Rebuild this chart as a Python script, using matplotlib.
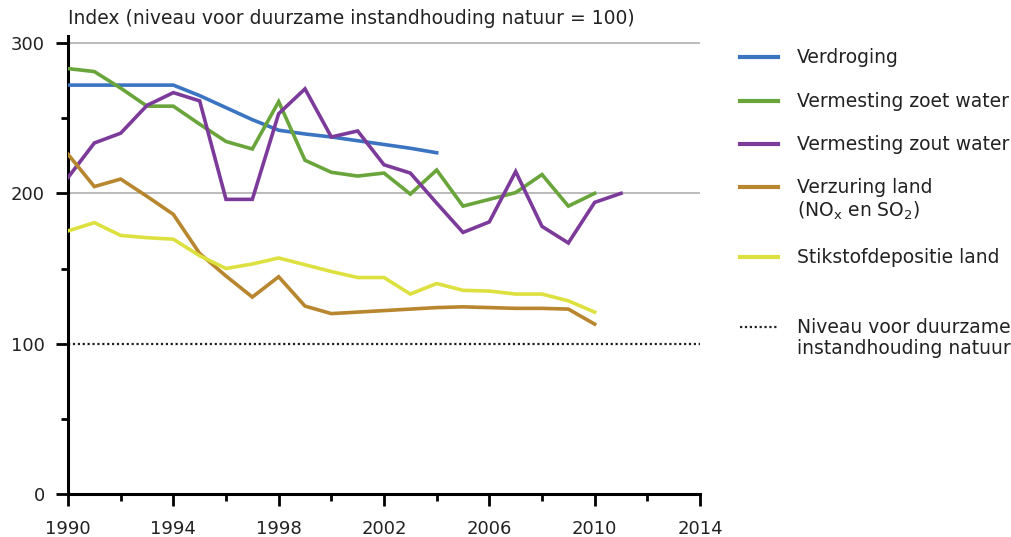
import matplotlib
matplotlib.use("Agg")
import matplotlib.pyplot as plt
from matplotlib.lines import Line2D

verdroging_years = list(range(1990, 2005))
verdroging = [272, 272, 272, 272, 272, 265, 257, 249, 242, 239.5, 237.5, 235, 232.5, 230, 227]

zoet_years = list(range(1990, 2011))
zoet = [283, 281, 270, 258, 258, 246, 234.5, 229.5, 261, 222, 214, 211.5, 213.5, 199.5,
        215.5, 191.5, 196, 200.5, 212.5, 191.5, 200]

zout_years = list(range(1990, 2012))
zout = [210.5, 233.5, 240, 258.5, 267, 261.5, 196, 196, 253, 269.5, 237.5, 241.5, 219, 213.5,
        193.5, 174, 181, 214.5, 178, 167, 194, 200]

verzuring_years = list(range(1990, 2011))
verzuring = [226, 204.5, 209.5, 198, 186, 160, 145, 131, 144.5, 125, 120, 121, 122, 123,
             124, 124.5, 124, 123.5, 123.5, 123, 113]

stikstof_years = list(range(1990, 2011))
stikstof = [175, 180.5, 172, 170.5, 169.5, 158.5, 150, 153, 157, 152.5, 148, 144, 144, 133,
            140, 135.5, 135, 133, 133, 128.5, 121]

level = 100

labels = ["Verdroging", "Vermesting zoet water", "Vermesting zout water",
          "Verzuring land\n(NO$_\\mathregular{x}$ en SO$_\\mathregular{2}$)",
          "Stikstofdepositie land",
          "Niveau voor duurzame\ninstandhouding natuur"]
colors = ["#3b74c1", "#6aa53b", "#7c3a9a", "#b8862f", "#dde13f"]

plt.rcParams["font.family"] = ["DejaVu Sans"]
plt.rcParams["mathtext.default"] = "regular"

fig = plt.figure(figsize=(10.11, 5.37), dpi=100)
ax = fig.add_axes([68 / 1011, 43 / 537, (700 - 68) / 1011, (494 - 35.5) / 537])

for yv in [200, 300]:
    ax.axhline(yv, color="#b5b5b5", lw=1.3, zorder=1)
ax.axhline(level, color="#222222", lw=1.6, ls=(0, (1, 1.2)), zorder=1)

series = [(verdroging_years, verdroging), (zoet_years, zoet), (zout_years, zout),
          (verzuring_years, verzuring), (stikstof_years, stikstof)]
for (xs, ys), c in zip(series, colors):
    ax.plot(xs, ys, color=c, lw=2.6, solid_joinstyle="miter", zorder=3)

ax.set_xlim(1990, 2014)
ax.set_ylim(0, 305)
ax.set_xticks(range(1990, 2015, 4))
ax.set_xticks(range(1992, 2014, 4), minor=True)
ax.set_yticks([0, 100, 200, 300])
ax.set_yticks([50, 150, 250], minor=True)

for s in ["top", "right"]:
    ax.spines[s].set_visible(False)
for s in ["left", "bottom"]:
    ax.spines[s].set_linewidth(2.2)
    ax.spines[s].set_color("black")

ax.tick_params(axis="x", which="major", direction="out", length=8.5, width=2,
               labelsize=13, pad=10, labelcolor="#222222")
ax.tick_params(axis="x", which="minor", direction="out", length=5, width=2)
ax.tick_params(axis="y", which="major", direction="out", length=8.5, width=2,
               labelsize=13, pad=8, labelcolor="#222222")
ax.tick_params(axis="y", which="minor", direction="out", length=5, width=2)

fig.text(68 / 1011, 1 - 18 / 537, "Index (niveau voor duurzame instandhouding natuur = 100)",
         fontsize=13.5, va="center", ha="left", color="#222222")

# legend
leg_y = [57, 101, 144, 187, 257, 327]
for i, (lbl, yp) in enumerate(zip(labels, leg_y)):
    fy = 1 - yp / 537
    if i < 5:
        fig.add_artist(Line2D([740 / 1011, 778 / 1011], [fy, fy], color=colors[i], lw=3))
    else:
        fig.add_artist(Line2D([740 / 1011, 778 / 1011], [fy, fy], color="#222222", lw=1.6,
                              ls=(0, (1, 1.2))))
    fig.text(797 / 1011, fy + 9 / 537, lbl, fontsize=13.5, va="top", ha="left",
             color="#222222", linespacing=1.15)

fig.savefig("out.png", dpi=100)
